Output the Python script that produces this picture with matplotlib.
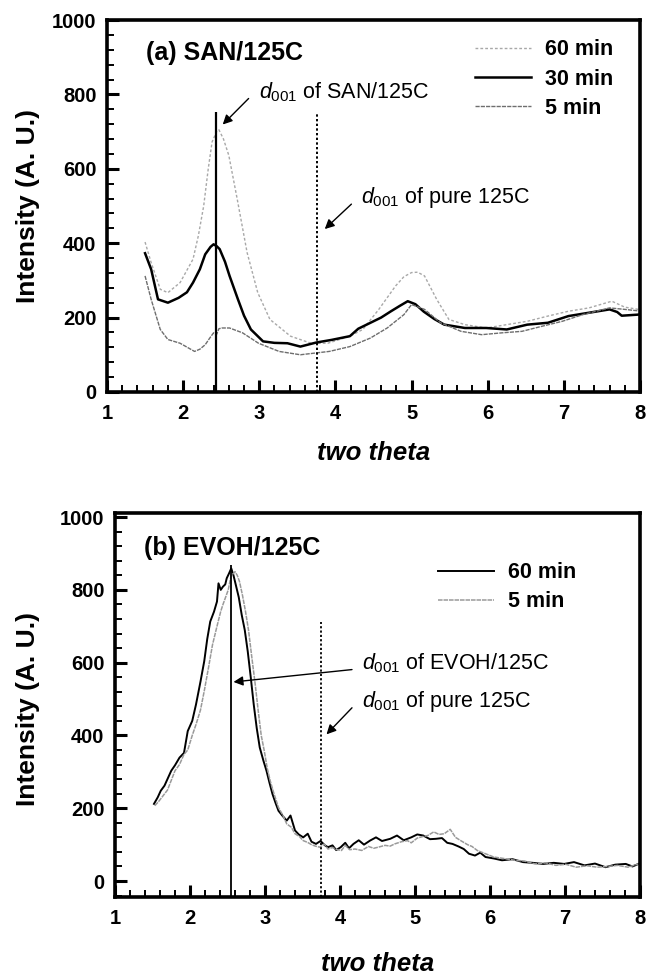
import numpy as np
import matplotlib.pyplot as plt
from matplotlib.ticker import MultipleLocator

plt.rcParams["font.family"] = ["Liberation Sans", "DejaVu Sans"]
plt.rcParams["mathtext.fontset"] = "custom"
plt.rcParams["mathtext.rm"] = "Liberation Sans"
plt.rcParams["mathtext.it"] = "Liberation Sans:italic"

# =========================
# (a) SAN/125C data
# =========================
san_30_x = [1.50, 1.58, 1.67, 1.80, 1.94, 2.05, 2.13, 2.22, 2.29, 2.36, 2.40, 2.44, 2.48,
            2.55, 2.61, 2.72, 2.80, 2.89, 3.05, 3.20, 3.37, 3.54, 3.75, 3.95, 4.19, 4.30,
            4.46, 4.60, 4.73, 4.85, 4.95, 5.05, 5.16, 5.30, 5.43, 5.70, 5.98, 6.25, 6.52,
            6.79, 7.06, 7.33, 7.60, 7.70, 7.76, 7.98]
san_30_y = [373, 330, 249, 240, 253, 268, 294, 330, 370, 390, 397, 392, 384,
            350, 312, 249, 205, 168, 136, 132, 131, 122, 133, 140, 150, 170,
            186, 200, 217, 232, 244, 236, 216, 196, 181, 172, 172, 168, 181,
            186, 204, 213, 222, 215, 205, 208]

san_60_x = [1.50, 1.58, 1.70, 1.80, 1.96, 2.13, 2.20, 2.27, 2.33, 2.38, 2.44, 2.47, 2.53,
            2.60, 2.71, 2.84, 2.98, 3.14, 3.41, 3.68, 3.90, 4.19, 4.36, 4.57, 4.79, 4.90,
            5.00, 5.08, 5.17, 5.33, 5.49, 5.70, 5.98, 6.25, 6.52, 6.79, 7.06, 7.33, 7.63,
            7.80, 7.98]
san_60_y = [403, 348, 276, 267, 294, 357, 420, 500, 600, 672, 700, 705, 680,
            636, 519, 375, 267, 195, 150, 131, 131, 150, 168, 222, 285, 310,
            321, 322, 312, 249, 195, 181, 172, 181, 190, 204, 217, 226, 244,
            228, 222]

san_5_x = [1.50, 1.58, 1.70, 1.80, 1.96, 2.15, 2.22, 2.29, 2.35, 2.40, 2.44, 2.47, 2.51,
           2.61, 2.78, 2.99, 3.26, 3.54, 3.75, 3.92, 4.19, 4.46, 4.68, 4.90, 5.00, 5.17,
           5.38, 5.65, 5.92, 6.19, 6.45, 6.72, 6.98, 7.25, 7.60, 7.80, 7.98]
san_5_y = [312, 249, 168, 141, 131, 109, 115, 127, 145, 159, 155, 170, 172,
           172, 159, 131, 109, 100, 105, 109, 122, 145, 172, 208, 235, 222,
           186, 163, 154, 159, 163, 177, 190, 208, 226, 222, 218]

# =========================
# (b) EVOH/125C data
# =========================
evoh_60_x = [1.52, 1.57, 1.61, 1.66, 1.75, 1.80, 1.86, 1.92, 1.97, 2.03, 2.08, 2.14, 2.19,
             2.23, 2.27, 2.32, 2.36, 2.38, 2.41, 2.44, 2.47, 2.49, 2.52, 2.55, 2.58, 2.60,
             2.65, 2.69, 2.73, 2.77, 2.81, 2.85, 2.89, 2.93, 2.98, 3.02, 3.06, 3.10, 3.14,
             3.18, 3.23, 3.29, 3.34, 3.40, 3.45, 3.51, 3.57, 3.62, 3.68, 3.74, 3.80, 3.84,
             3.90, 3.95, 4.01, 4.07, 4.12, 4.18, 4.25, 4.32, 4.40, 4.48, 4.56, 4.67, 4.76,
             4.85, 4.95, 5.03, 5.11, 5.20, 5.28, 5.36, 5.43, 5.50, 5.58, 5.65, 5.72, 5.80,
             5.87, 5.94, 6.05, 6.16, 6.30, 6.44, 6.57, 6.71, 6.85, 6.99, 7.12, 7.26, 7.40,
             7.54, 7.67, 7.81, 7.90, 7.98]
evoh_60_y = [212, 230, 248, 262, 303, 318, 339, 352, 412, 440, 485, 548, 604,
             665, 713, 740, 768, 818, 800, 809, 815, 832, 845, 859, 840, 823,
             780, 731, 690, 631, 560, 485, 420, 367, 330, 303, 270, 239, 215,
             193, 180, 166, 180, 139, 128, 120, 130, 108, 102, 110, 98, 93,
             98, 85, 93, 105, 90, 102, 112, 100, 111, 120, 110, 116, 125,
             112, 120, 128, 125, 115, 116, 118, 105, 102, 95, 88, 75, 70,
             78, 66, 62, 57, 60, 52, 50, 47, 50, 47, 52, 43, 48,
             38, 45, 47, 40, 47]

evoh_5_x = [1.53, 1.58, 1.64, 1.70, 1.80, 1.86, 1.92, 1.97, 2.03, 2.08, 2.14, 2.19, 2.25,
            2.30, 2.36, 2.41, 2.44, 2.47, 2.51, 2.55, 2.58, 2.60, 2.63, 2.66, 2.70, 2.74,
            2.78, 2.82, 2.87, 2.91, 2.95, 2.99, 3.03, 3.07, 3.12, 3.18, 3.24, 3.29, 3.35,
            3.40, 3.46, 3.51, 3.57, 3.62, 3.67, 3.73, 3.79, 3.84, 3.90, 3.96, 4.02, 4.07,
            4.13, 4.20, 4.29, 4.38, 4.45, 4.51, 4.60, 4.67, 4.73, 4.82, 4.90, 4.95, 5.03,
            5.10, 5.17, 5.25, 5.32, 5.39, 5.47, 5.54, 5.61, 5.70, 5.76, 5.83, 5.94, 6.05,
            6.18, 6.33, 6.46, 6.60, 6.74, 6.88, 7.01, 7.15, 7.29, 7.43, 7.57, 7.70, 7.84,
            7.98]
evoh_5_y = [207, 218, 234, 250, 303, 320, 348, 360, 400, 430, 470, 522, 590,
            649, 700, 741, 760, 777, 800, 841, 845, 850, 840, 823, 785, 741,
            690, 622, 540, 467, 400, 358, 310, 275, 240, 202, 180, 157, 148,
            130, 122, 111, 106, 100, 96, 93, 102, 88, 92, 86, 84, 98,
            86, 88, 84, 95, 90, 93, 98, 96, 102, 108, 111, 105, 118,
            122, 125, 135, 128, 130, 142, 120, 111, 100, 95, 84, 75, 66,
            62, 57, 55, 47, 50, 43, 46, 38, 42, 38, 40, 43, 38,
            47]

# reference lines and labels
x_ticks = [1, 2, 3, 4, 5, 6, 7, 8]
y_ticks = [0, 200, 400, 600, 800, 1000]
san_d001, pure_d001_a = 2.43, 3.76
evoh_d001, pure_d001_b = 2.55, 3.75


def style_axes(ax, ylim):
    ax.set_xlim(1, 8)
    ax.set_ylim(*ylim)
    ax.set_xticks(x_ticks)
    ax.set_yticks(y_ticks)
    ax.xaxis.set_minor_locator(MultipleLocator(0.2))
    ax.yaxis.set_minor_locator(MultipleLocator(40))
    ax.tick_params(which="major", direction="in", length=8.5, width=2.2,
                   labelsize=14.5, top=False, right=False)
    ax.tick_params(which="minor", direction="in", length=5, width=1.4,
                   top=False, right=False)
    ax.tick_params(axis="x", which="major", pad=8.5)
    ax.tick_params(axis="y", which="major", pad=7.5)
    for lab in ax.get_xticklabels() + ax.get_yticklabels():
        lab.set_fontweight("bold")
    for s in ax.spines.values():
        s.set_linewidth(2.6)
    ax.set_xlabel("two theta", fontsize=18.5, fontweight="bold", style="italic")
    ax.set_ylabel("Intensity (A. U.)", fontsize=19, fontweight="bold")


def d001_label(ax, text, xy_text, xy_head):
    ax.annotate("", xy=xy_head, xytext=xy_text,
                arrowprops=dict(arrowstyle="-|>", color="black", lw=1.0,
                                mutation_scale=14, shrinkA=0, shrinkB=0))
    ax.text(xy_text[0] + 0.13, xy_text[1] + 18, text, fontsize=15.5,
            ha="left", va="center")


fig = plt.figure(figsize=(6.46, 9.76), dpi=100)

# =========================
# (a) SAN/125C
# =========================
ax1 = fig.add_axes([0.1656, 0.5984, 0.8251, 0.3811])
ax1.plot(san_60_x, san_60_y, color="#a8a8a8", lw=1.0, ls=(0, (2, 1.5)), label="60 min")
ax1.plot(san_30_x, san_30_y, color="black", lw=1.8, label="30 min")
ax1.plot(san_5_x, san_5_y, color="#6e6e6e", lw=1.0, ls=(0, (3, 0.8)), label="5 min")
ax1.vlines(san_d001, 0, 752, color="black", lw=1.6)
ax1.vlines(pure_d001_a, 0, 748, color="black", lw=1.4, ls=(0, (1.2, 1.2)))
style_axes(ax1, (0, 1000))
ax1.xaxis.set_label_coords(0.5, -0.132)
ax1.yaxis.set_label_coords(-0.126, 0.5)
ax1.text(1.51, 911, "(a) SAN/125C", fontsize=18, fontweight="bold", ha="left", va="center")
d001_label(ax1, r"$d_{\mathrm{001}}$ of SAN/125C", (2.86, 789), (2.52, 719))
d001_label(ax1, r"$d_{\mathrm{001}}$ of pure 125C", (4.21, 505), (3.86, 438))
leg1 = ax1.legend(loc="upper left", bbox_to_anchor=(0.691, 0.948), frameon=False,
                  borderpad=0, borderaxespad=0, handlelength=2.6, handletextpad=0.65,
                  labelspacing=0.38, prop=dict(size=15.5, weight="bold"))

# =========================
# (b) EVOH/125C
# =========================
ax2 = fig.add_axes([0.178, 0.0809, 0.8127, 0.3934])
ax2.plot(evoh_60_x, evoh_60_y, color="black", lw=1.4, label="60 min")
ax2.plot(evoh_5_x, evoh_5_y, color="#9a9a9a", lw=1.1, ls=(0, (3, 0.6)), label="5 min")
ax2.vlines(evoh_d001, -44, 868, color="black", lw=1.3)
ax2.vlines(pure_d001_b, -44, 713, color="black", lw=1.3, ls=(0, (1.2, 1.2)))
style_axes(ax2, (-44, 1011))
ax2.xaxis.set_label_coords(0.5, -0.142)
ax2.yaxis.set_label_coords(-0.143, 0.49)
ax2.text(1.39, 914, "(b) EVOH/125C", fontsize=18, fontweight="bold", ha="left", va="center")
d001_label(ax2, r"$d_{\mathrm{001}}$ of EVOH/125C", (4.16, 581), (2.58, 547))
d001_label(ax2, r"$d_{\mathrm{001}}$ of pure 125C", (4.16, 476), (3.82, 403))
leg2 = ax2.legend(loc="upper left", bbox_to_anchor=(0.615, 0.872), frameon=False,
                  borderpad=0, borderaxespad=0, handlelength=2.6, handletextpad=0.65,
                  labelspacing=0.38, prop=dict(size=15.5, weight="bold"))

fig.savefig("out.png", dpi=100)
